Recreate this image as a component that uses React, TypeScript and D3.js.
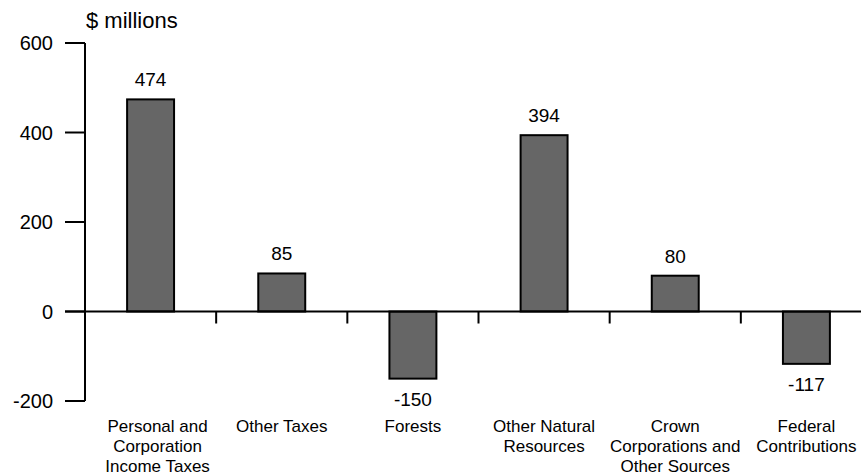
import React from "react";
import * as d3 from "d3";

// Revenue change by source, $ millions
const categories = [
  "Personal and Corporation Income Taxes",
  "Other Taxes",
  "Forests",
  "Other Natural Resources",
  "Crown Corporations and Other Sources",
  "Federal Contributions",
];
const categoryLines = [
  ["Personal and", "Corporation", "Income Taxes"],
  ["Other Taxes"],
  ["Forests"],
  ["Other Natural", "Resources"],
  ["Crown", "Corporations and", "Other Sources"],
  ["Federal", "Contributions"],
];
const values = [474, 85, -150, 394, 80, -117];
const yTicks = [-200, 0, 200, 400, 600];
const yUnit = "$ millions";

const W = 861;
const H = 475;
const FONT = "'Liberation Sans', Arial, Helvetica, sans-serif";

export default function App() {
  const x = d3
    .scaleBand<string>()
    .domain(categories)
    .range([85, 872])
    .paddingInner(0.642)
    .paddingOuter(0.321);
  const y = d3.scaleLinear().domain([-200, 600]).range([401, 43]);
  const step = x.step();
  const bw = x.bandwidth();
  const y0 = y(0);

  return (
    <svg
      width={W}
      height={H}
      style={{ position: "absolute", left: 0, top: 0, background: "#fff" }}
      fontFamily={FONT}
    >
      {/* unit label */}
      <text x={86} y={28} fontSize={22} fill="#000">
        {yUnit}
      </text>

      {/* y axis */}
      <line x1={85} x2={85} y1={y(600)} y2={y(-200)} stroke="#000" strokeWidth={2} />
      {yTicks.map((t) => (
        <g key={t}>
          <line x1={65} x2={85} y1={y(t)} y2={y(t)} stroke="#000" strokeWidth={2} />
          <text
            x={53}
            y={y(t)}
            dy="0.36em"
            textAnchor="end"
            fontSize={20}
            fill="#000"
          >
            {t}
          </text>
        </g>
      ))}

      {/* bars */}
      {categories.map((c, i) => {
        const v = values[i];
        const top = y(Math.max(0, v));
        const bottom = y(Math.min(0, v));
        return (
          <rect
            key={c}
            x={x(c)}
            y={top}
            width={bw}
            height={bottom - top}
            fill="#666666"
            stroke="#000"
            strokeWidth={2}
          />
        );
      })}

      {/* zero line with category dividers */}
      <line x1={65} x2={W} y1={y0} y2={y0} stroke="#000" strokeWidth={2} />
      {categories.slice(0, -1).map((c) => {
        const bx = (x(c) as number) + bw + (step - bw) / 2;
        return (
          <line key={c} x1={bx} x2={bx} y1={y0} y2={y0 + 12} stroke="#000" strokeWidth={2} />
        );
      })}

      {/* value labels */}
      {categories.map((c, i) => {
        const v = values[i];
        const cx = (x(c) as number) + bw / 2;
        const ly = v >= 0 ? y(v) - 13 : y(v) + 27;
        return (
          <text key={c} x={cx} y={ly} textAnchor="middle" fontSize={19} fill="#000">
            {v}
          </text>
        );
      })}

      {/* category labels; the first block sits a little right of its bar */}
      {categories.map((c, i) => {
        const cx = (x(c) as number) + bw / 2 + (i === 0 ? 7 : 0);
        return (
          <text key={c} textAnchor="middle" fontSize={17} fill="#000">
            {categoryLines[i].map((line, j) => (
              <tspan key={j} x={cx} y={432 + j * 20}>
                {line}
              </tspan>
            ))}
          </text>
        );
      })}
    </svg>
  );
}
